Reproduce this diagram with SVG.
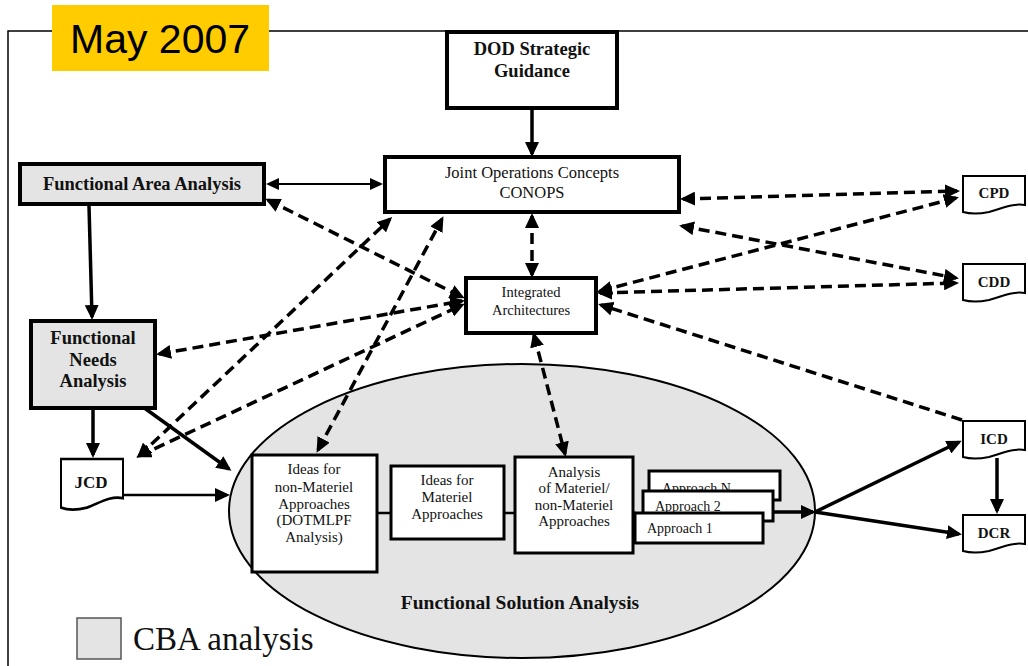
<svg xmlns="http://www.w3.org/2000/svg" width="1028" height="666" viewBox="0 0 1028 666" font-family="'Liberation Serif', 'Times New Roman', serif">
  <style>
    .box { fill: #ffffff; stroke: #000000; stroke-width: 4; }
    .gbox { fill: #e4e4e4; stroke: #000000; stroke-width: 4; }
    .sbox { fill: #ffffff; stroke: #000000; stroke-width: 3; }
    .doc { fill: #ffffff; stroke: #000000; stroke-width: 2; }
    .t { fill: #111111; text-anchor: middle; }
    .ts { fill: #111111; text-anchor: start; }
    .b { font-weight: bold; }
    .dash { fill: none; stroke: #000000; stroke-width: 3.5; stroke-dasharray: 11 6; }
    .solid { fill: none; stroke: #000000; stroke-width: 3.5; }
    .thin { fill: none; stroke: #000000; stroke-width: 2; }
    .link { fill: none; stroke: #000000; stroke-width: 2.5; }
  </style>
  <defs>
    <marker id="ah" markerUnits="userSpaceOnUse" markerWidth="16" markerHeight="14" viewBox="0 0 16 14" refX="12" refY="7" orient="auto-start-reverse">
      <path d="M0,0 L15,7 L0,14 Z" fill="#000000"/>
    </marker>
    <marker id="ahs" markerUnits="userSpaceOnUse" markerWidth="14" markerHeight="12" viewBox="0 0 14 12" refX="11" refY="6" orient="auto-start-reverse">
      <path d="M0,0 L13,6 L0,12 Z" fill="#000000"/>
    </marker>
    <!-- document shape: flat top, wavy bottom -->
    <path id="docShape" d="M0,0 H62 V29 C48,27 38,33 26,36 C16,38 7,38 0,36 Z"/>
  </defs>

  <rect x="0" y="0" width="1028" height="666" fill="#ffffff"/>

  <!-- outer frame -->
  <path d="M8,666 V31 H1028" fill="none" stroke="#000000" stroke-width="1.5"/>

  <!-- date tab -->
  <g id="date-tab">
    <rect x="52" y="5" width="217" height="66" fill="#ffcc00"/>
    <text x="70" y="53" font-family="'Liberation Sans', Arial, sans-serif" font-size="41" fill="#000000">May 2007</text>
  </g>

  <!-- solution analysis region -->
  <g id="functional-solution-analysis">
    <ellipse cx="522" cy="511" rx="293" ry="147" fill="#e4e4e4" stroke="#000000" stroke-width="2"/>
    <text class="t b" x="520" y="609" font-size="19.5">Functional Solution Analysis</text>
  </g>

  <!-- connectors -->
  <g id="connectors">
    <!-- dashed information flows -->
    <line class="dash" x1="683" y1="199" x2="957" y2="191" marker-start="url(#ah)" marker-end="url(#ah)"/>
    <line class="dash" x1="682" y1="226" x2="956" y2="278" marker-start="url(#ah)" marker-end="url(#ah)"/>
    <line class="dash" x1="600" y1="291" x2="956" y2="198" marker-start="url(#ah)" marker-end="url(#ah)"/>
    <line class="dash" x1="600" y1="293" x2="956" y2="283" marker-start="url(#ah)" marker-end="url(#ah)"/>
    <line class="dash" x1="962" y1="420" x2="601" y2="305" marker-end="url(#ah)"/>
    <line class="dash" x1="532" y1="216" x2="532" y2="275" marker-start="url(#ah)" marker-end="url(#ah)"/>
    <line class="dash" x1="534" y1="335" x2="565" y2="454" marker-start="url(#ah)" marker-end="url(#ah)"/>
    <line class="dash" x1="268" y1="200" x2="462" y2="297" marker-start="url(#ah)" marker-end="url(#ah)"/>
    <line class="dash" x1="159" y1="354" x2="462" y2="301" marker-start="url(#ah)" marker-end="url(#ah)"/>
    <line class="dash" x1="139" y1="456" x2="462" y2="305" marker-start="url(#ah)" marker-end="url(#ah)"/>
    <line class="dash" x1="139" y1="456" x2="390" y2="219" marker-start="url(#ah)" marker-end="url(#ah)"/>
    <line class="dash" x1="318" y1="450" x2="442" y2="219" marker-start="url(#ah)" marker-end="url(#ah)"/>

    <!-- solid flows -->
    <line class="solid" x1="532" y1="109" x2="532" y2="154" marker-end="url(#ah)"/>
    <line class="thin" x1="268" y1="184" x2="381" y2="184" marker-start="url(#ahs)" marker-end="url(#ahs)"/>
    <line class="solid" x1="89" y1="206" x2="92" y2="317" marker-end="url(#ah)"/>
    <line class="solid" x1="93" y1="410" x2="93" y2="455" marker-end="url(#ah)"/>
    <line class="solid" x1="143" y1="407" x2="229" y2="469" marker-end="url(#ah)"/>
    <line class="link" x1="123" y1="495" x2="227" y2="495" marker-end="url(#ah)"/>
    <line class="link" x1="377" y1="513" x2="391" y2="513"/>
    <line class="link" x1="504" y1="513" x2="515" y2="513"/>
    <line class="link" x1="633" y1="513" x2="636" y2="513"/>
    <line class="solid" x1="773" y1="512" x2="813" y2="512" marker-end="url(#ah)"/>
    <line class="solid" x1="815" y1="512" x2="959" y2="442" marker-end="url(#ah)"/>
    <line class="solid" x1="815" y1="512" x2="959" y2="534" marker-end="url(#ah)"/>
    <line class="solid" x1="997" y1="458" x2="997" y2="511" marker-end="url(#ah)"/>
  </g>

  <g id="dod-strategic-guidance">
    <rect class="box" x="447" y="32" width="170" height="76"/>
    <text class="t b" x="532" y="55" font-size="18.5">DOD Strategic</text>
    <text class="t b" x="532" y="77" font-size="18.5">Guidance</text>
  </g>

  <g id="joint-operations-concepts">
    <rect class="box" x="385" y="157" width="294" height="55"/>
    <text class="t" x="532" y="178" font-size="16.5">Joint Operations Concepts</text>
    <text class="t" x="532" y="198" font-size="16.5">CONOPS</text>
  </g>

  <g id="functional-area-analysis">
    <rect class="gbox" x="20" y="164" width="244" height="40"/>
    <text class="t b" x="142" y="190" font-size="18.5">Functional Area Analysis</text>
  </g>

  <g id="functional-needs-analysis">
    <rect class="gbox" x="31" y="321" width="124" height="87"/>
    <text class="t b" x="93" y="344" font-size="18.5">Functional</text>
    <text class="t b" x="93" y="366" font-size="18.5">Needs</text>
    <text class="t b" x="93" y="387" font-size="18.5">Analysis</text>
  </g>

  <g id="integrated-architectures">
    <rect class="box" x="466" y="278" width="130" height="55"/>
    <text class="t" x="531" y="297" font-size="14.5">Integrated</text>
    <text class="t" x="531" y="315" font-size="14.5">Architectures</text>
  </g>

  <g id="jcd">
    <use href="#docShape" class="doc" transform="translate(61,459) scale(1,1.35)"/>
    <text class="t b" x="91" y="488" font-size="17">JCD</text>
  </g>

  <g id="cpd">
    <use href="#docShape" class="doc" transform="translate(963,176)"/>
    <text class="t b" x="994" y="198" font-size="15">CPD</text>
  </g>

  <g id="cdd">
    <use href="#docShape" class="doc" transform="translate(963,264)"/>
    <text class="t b" x="994" y="287" font-size="15">CDD</text>
  </g>

  <g id="icd">
    <use href="#docShape" class="doc" transform="translate(963,421)"/>
    <text class="t b" x="994" y="444" font-size="15">ICD</text>
  </g>

  <g id="dcr">
    <use href="#docShape" class="doc" transform="translate(963,515)"/>
    <text class="t b" x="994" y="538" font-size="15">DCR</text>
  </g>

  <g id="ideas-non-materiel">
    <rect class="sbox" x="252" y="455" width="125" height="117"/>
    <text class="t" x="314" y="474" font-size="15">Ideas for</text>
    <text class="t" x="314" y="492" font-size="15">non-Materiel</text>
    <text class="t" x="314" y="509" font-size="15">Approaches</text>
    <text class="t" x="314" y="525" font-size="15">(DOTMLPF</text>
    <text class="t" x="314" y="542" font-size="15">Analysis)</text>
  </g>

  <g id="ideas-materiel">
    <rect class="sbox" x="391" y="466" width="113" height="73"/>
    <text class="t" x="447" y="485" font-size="15">Ideas for</text>
    <text class="t" x="447" y="502" font-size="15">Materiel</text>
    <text class="t" x="447" y="519" font-size="15">Approaches</text>
  </g>

  <g id="analysis-of-approaches">
    <rect class="sbox" x="515" y="457" width="118" height="96"/>
    <text class="t" x="574" y="477" font-size="15">Analysis</text>
    <text class="t" x="574" y="493" font-size="15">of Materiel/</text>
    <text class="t" x="574" y="510" font-size="15">non-Materiel</text>
    <text class="t" x="574" y="526" font-size="15">Approaches</text>
  </g>

  <!-- stacked approach cards, front card drawn last -->
  <g id="approach-n">
    <rect class="sbox" x="649" y="471" width="131" height="29"/>
    <text class="ts" x="662" y="493" font-size="14">Approach N</text>
  </g>
  <g id="approach-2">
    <rect class="sbox" x="643" y="491" width="130" height="30"/>
    <text class="ts" x="655" y="511" font-size="14">Approach 2</text>
  </g>
  <g id="approach-1">
    <rect class="sbox" x="635" y="513" width="128" height="30"/>
    <text class="ts" x="647" y="533" font-size="14">Approach 1</text>
  </g>

  <!-- legend -->
  <g id="legend">
    <rect x="77" y="618" width="44" height="41" fill="#e4e4e4" stroke="#555555" stroke-width="1.5"/>
    <text x="133" y="650" font-size="33" fill="#111111">CBA analysis</text>
  </g>
</svg>
